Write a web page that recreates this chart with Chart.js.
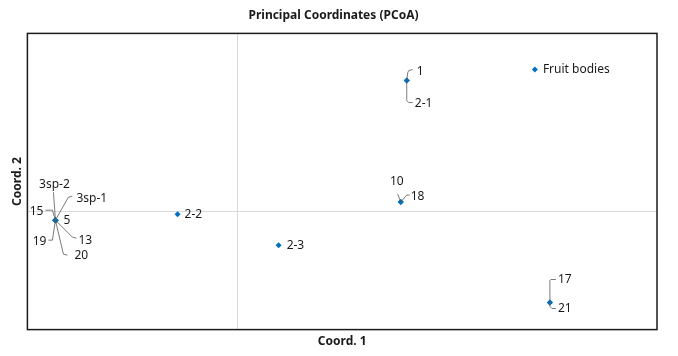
<!DOCTYPE html>
<html>
<head>
<meta charset="utf-8">
<script src="https://cdn.jsdelivr.net/npm/chart.js@4"></script>
<style>
html,body{margin:0;padding:0;background:#fff;}
#wrap{width:678px;height:356px;}
</style>
</head>
<body>
<div id="wrap"><canvas id="c" width="678" height="356"></canvas></div>
<script>
// ---- data ----
const sampleNames = ["3sp-2","3sp-1","15","5","19","13","20","2-2","2-3","10","18","1","2-1","Fruit bodies","17","21"];
const coord1 = [-0.182,-0.182,-0.182,-0.182,-0.182,-0.182,-0.182,-0.060,0.041,0.163,0.163,0.169,0.169,0.297,0.312,0.312];
const coord2 = [-0.009,-0.009,-0.009,-0.009,-0.009,-0.009,-0.009,-0.003,-0.034,0.009,0.009,0.130,0.130,0.141,-0.091,-0.091];
const axisTitles = {x: "Coord. 1", y: "Coord. 2"};
const chartTitle = "Principal Coordinates (PCoA)";

// ---- label layout (pixel offsets from the point: text anchor + leader path) ----
const labelLayout = {
  "3sp-2": {t:[-1,-36], align:"center", lead:[[0,0],[-2,-28]]},
  "3sp-1": {t:[21,-22], align:"left", lead:[[0,0],[13,-23],[17,-24]]},
  "15": {t:[-12,-9], align:"right", lead:[[0,0],[-3,-10],[-10,-10]]},
  "5": {t:[8,0], align:"left", lead:null},
  "19": {t:[-9,21], align:"right", lead:[[0,0],[-3,20],[-7,20]]},
  "13": {t:[23,20], align:"left", lead:[[0,0],[17,17],[21,18]]},
  "20": {t:[19,35], align:"left", lead:[[0,0],[8,34],[12,35]]},
  "2-2": {t:[7,0], align:"left", lead:null},
  "2-3": {t:[8,0], align:"left", lead:null},
  "10": {t:[-4,-21], align:"center", lead:[[0,0],[-3,-8]]},
  "18": {t:[10,-6], align:"left", lead:[[0,0],[6,-7],[9,-7]]},
  "1": {t:[10,-9], align:"left", lead:[[0,0],[1,-8],[2,-10],[6,-11]]},
  "2-1": {t:[8,23], align:"left", lead:[[0,0],[0,20],[2,22],[6,22]]},
  "Fruit bodies": {t:[8,0], align:"left", lead:null},
  "17": {t:[8,-23], align:"left", lead:[[0,0],[0,-22],[1,-23],[6,-23]]},
  "21": {t:[8,6], align:"left", lead:[[0,0],[0,4],[2,6],[6,6]]}
};

const FONT = "'Noto Sans', 'Open Sans', sans-serif";

const labelPlugin = {
  id: 'pcoaLabels',
  afterDatasetsDraw(chart) {
    const ctx = chart.ctx;
    const meta = chart.getDatasetMeta(0);
    ctx.save();
    meta.data.forEach((pt, i) => {
      const name = sampleNames[i];
      const L = labelLayout[name];
      const px = pt.x, py = pt.y;
      if (L.lead) {
        ctx.beginPath();
        ctx.strokeStyle = '#595959';
        ctx.lineWidth = 0.8;
        L.lead.forEach((p, k) => {
          if (k === 0) ctx.moveTo(px + p[0], py + p[1]);
          else ctx.lineTo(px + p[0], py + p[1]);
        });
        ctx.stroke();
      }
      ctx.fillStyle = '#1a1a1a';
      ctx.font = "12px " + FONT;
      ctx.textAlign = L.align;
      ctx.textBaseline = 'middle';
      ctx.fillText(name, px + L.t[0], py + L.t[1]);
    });
    ctx.restore();
  }
};

const boxPlugin = {
  id: 'plotBox',
  afterDraw(chart) {
    const a = chart.chartArea;
    const ctx = chart.ctx;
    ctx.save();
    ctx.strokeStyle = '#1a1a1a';
    ctx.lineWidth = 1.5;
    ctx.strokeRect(a.left, a.top, a.right - a.left, a.bottom - a.top);
    ctx.restore();
  }
};

const zeroOnly = (scale) => { scale.ticks = [{value: 0}]; };

new Chart(document.getElementById('c'), {
  type: 'scatter',
  data: {
    datasets: [{
      data: coord1.map((x, i) => ({x: x, y: coord2[i]})),
      pointStyle: 'rectRot',
      radius: 3,
      hoverRadius: 3,
      backgroundColor: '#0070C0',
      borderColor: '#0070C0',
      borderWidth: 0
    }]
  },
  options: {
    responsive: false,
    animation: false,
    events: [],
    layout: {padding: {left: 10, right: 21, top: 0, bottom: 7}},
    plugins: {
      legend: {display: false},
      tooltip: {enabled: false},
      title: {
        display: true, text: chartTitle, color: '#1a1a1a',
        font: {family: FONT, size: 12, weight: 'bold'},
        padding: {top: 8, bottom: 11}
      }
    },
    scales: {
      x: {
        type: 'linear', min: -0.21, max: 0.419,
        afterBuildTicks: zeroOnly,
        ticks: {display: false},
        border: {display: false},
        grid: {color: '#d9d9d9', lineWidth: 1, drawTicks: false},
        title: {display: true, text: axisTitles.x, color: '#1a1a1a',
          font: {family: FONT, size: 12, weight: 'bold'}, padding: {top: 5, bottom: 0}}
      },
      y: {
        type: 'linear', min: -0.118, max: 0.177,
        afterBuildTicks: zeroOnly,
        ticks: {display: false},
        border: {display: false},
        grid: {color: '#d9d9d9', lineWidth: 1, drawTicks: false},
        title: {display: true, text: axisTitles.y, color: '#1a1a1a',
          font: {family: FONT, size: 12, weight: 'bold'}, padding: {top: 0, bottom: 3}}
      }
    }
  },
  plugins: [labelPlugin, boxPlugin]
});
</script>
</body>
</html>
